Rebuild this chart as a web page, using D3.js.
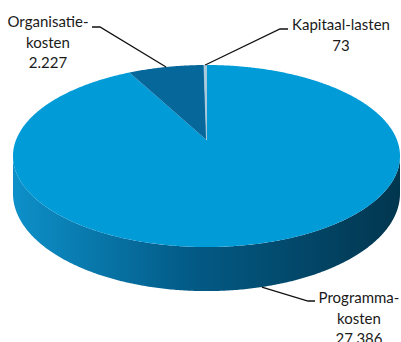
<!DOCTYPE html>
<html>
<head>
<meta charset="utf-8">
<script src="https://cdn.jsdelivr.net/npm/d3@7/dist/d3.min.js"></script>
<style>
  html, body { margin: 0; padding: 0; background: #fff; }
  svg { display: block; }
  text { font-family: Lato, "Open Sans", sans-serif; font-size: 15px; fill: #1a1a1a; }
</style>
</head>
<body>
<svg id="chart" width="401" height="342"></svg>
<script>
// Cost breakdown (x 1.000 euro)
const categories = ["Programma-kosten", "Organisatie-kosten", "Kapitaal-lasten"];
const values = [27386, 2227, 73];
const labelLines = [
  ["Programma-", "kosten", "27.386"],
  ["Organisatie-", "kosten", "2.227"],
  ["Kapitaal-lasten", "73"]
];
const topColors = ["#019bd8", "#05679a", "#a9c8da"];

const svg = d3.select("#chart");

// Tilted disc seen in perspective: centre of the disc, half-axes and
// perspective strength k (front of the disc is nearer, so it looks larger)
const cx = 206.5, cy = 140, A = 190.5, B = 88.2, k = 0.176, D = 36.3;

const pie = d3.pie().sort(null).value(d => d)(values);

// Projected point on the rim for angle a (clockwise from 12 o'clock);
// lower = true gives the rim of the bottom face
function pt(a, lower = false) {
  const u = Math.sin(a), v = -Math.cos(a);
  const w = 1 - k * v;
  return [cx + A * u / w, cy + B * v / w + (lower ? D / w : 0)];
}

// Rim points from a0 to a1 in small steps
function rim(a0, a1, lower = false) {
  const n = Math.max(2, Math.ceil(Math.abs(a1 - a0) / (Math.PI / 360)));
  return d3.range(n + 1).map(i => pt(a0 + (a1 - a0) * i / n, lower));
}

const line = d3.line();

// Side wall gradient
const defs = svg.append("defs");
const grad = defs.append("linearGradient")
  .attr("id", "sideGrad")
  .attr("gradientUnits", "userSpaceOnUse")
  .attr("x1", cx - 193).attr("x2", cx + 193).attr("y1", 0).attr("y2", 0);
grad.append("stop").attr("offset", "0").attr("stop-color", "#0d90c9");
grad.append("stop").attr("offset", "0.45").attr("stop-color", "#035b87");
grad.append("stop").attr("offset", "1").attr("stop-color", "#02364f");

// Outer walls: visible between the two silhouette angles
const sRight = Math.acos(-k), sLeft = 2 * Math.PI - sRight;
const sides = svg.append("g");
pie.forEach(s => {
  const a0 = Math.max(s.startAngle, sRight);
  const a1 = Math.min(s.endAngle, sLeft);
  if (a1 <= a0) return;
  const pts = rim(a0, a1).concat(rim(a1, a0, true));
  sides.append("path").attr("d", line(pts) + "Z").attr("fill", "url(#sideGrad)");
});

// Top faces
const tops = svg.append("g");
pie.forEach((s, i) => {
  const pts = [[cx, cy]].concat(rim(s.startAngle, s.endAngle));
  tops.append("path").attr("d", line(pts) + "Z")
    .attr("fill", topColors[i])
    .attr("stroke", i === 2 ? "#a9c8da" : "none")
    .attr("stroke-width", i === 2 ? 0.8 : 0);
});

// Labels with leader lines
const labelPos = [
  { x: 359, y: 303, elbow: [308, 301], end: [315, 301], onWall: true },
  { x: 48,  y: 27,  elbow: [100, 27], end: [92, 27], onWall: false },
  { x: 341, y: 30,  elbow: [280, 29], end: [288, 29], onWall: false }
];

const lbl = svg.append("g");
pie.forEach((s, i) => {
  const mid = (s.startAngle + s.endAngle) / 2;
  const L = labelPos[i];
  const anchor = pt(mid, L.onWall);
  lbl.append("polyline")
    .attr("points", [anchor, L.elbow, L.end].map(p => p.join(",")).join(" "))
    .attr("fill", "none").attr("stroke", "#111").attr("stroke-width", 1.3);
  const t = lbl.append("text").attr("text-anchor", "middle");
  labelLines[i].forEach((ln, j) => {
    t.append("tspan").attr("x", L.x).attr("y", L.y + j * 20.5).text(ln);
  });
});
</script>
</body>
</html>
